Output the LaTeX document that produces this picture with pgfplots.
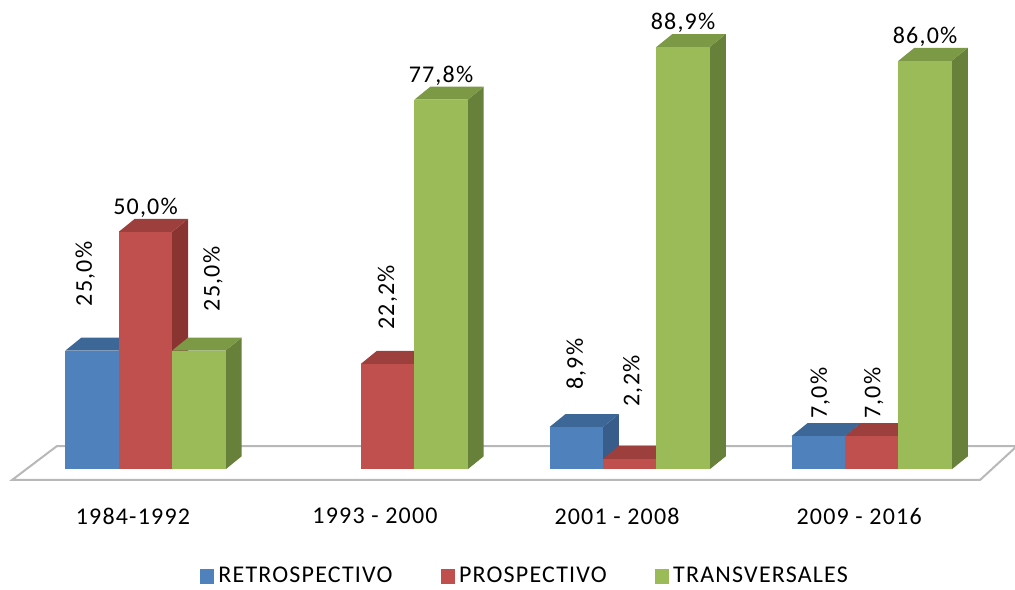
\documentclass[border=0pt]{standalone}
\usepackage{fontspec}
\setmainfont{Carlito}[LetterSpace=5]
\usepackage{pgfplots}
\usepackage{pgfplotstable}
\pgfplotsset{compat=1.18}

\definecolor{blueF}{HTML}{4F81BD}
\definecolor{blueT}{HTML}{3D6797}
\definecolor{blueS}{HTML}{385D8A}
\definecolor{redF}{HTML}{C0504D}
\definecolor{redT}{HTML}{9D3F3C}
\definecolor{redS}{HTML}{8A3432}
\definecolor{greenF}{HTML}{9BBB59}
\definecolor{greenT}{HTML}{7C9A46}
\definecolor{greenS}{HTML}{67803A}
\definecolor{floorline}{HTML}{B8B8B8}

% one 3d column: front face, top face and right side, hung from the data point
% 2.375pt per percent, front 26.7pt wide, depth offset (8pt, 6.5pt)
\newcommand\barmark[4]{%
\pgfdeclareplotmark{#1}{%
  \pgfmathsetmacro\hh{\bval*2.375}%
  \pgfpathmoveto{\pgfpoint{13.35pt}{0pt}}%
  \pgfpathlineto{\pgfpoint{21.35pt}{6.5pt}}%
  \pgfpathlineto{\pgfpoint{21.35pt}{6.5pt-\hh pt}}%
  \pgfpathlineto{\pgfpoint{13.35pt}{-\hh pt}}%
  \pgfpathclose
  \pgfsetfillcolor{#4}\pgfusepath{fill}%
  \pgfpathmoveto{\pgfpoint{-13.35pt}{0pt}}%
  \pgfpathlineto{\pgfpoint{13.35pt}{0pt}}%
  \pgfpathlineto{\pgfpoint{21.35pt}{6.5pt}}%
  \pgfpathlineto{\pgfpoint{-5.35pt}{6.5pt}}%
  \pgfpathclose
  \pgfsetfillcolor{#3}\pgfusepath{fill}%
  \pgfpathrectanglecorners{\pgfpoint{-13.35pt}{0pt}}{\pgfpoint{13.35pt}{-\hh pt}}%
  \pgfsetfillcolor{#2}\pgfusepath{fill}%
}}
\barmark{barB}{blueF}{blueT}{blueS}
\barmark{barR}{redF}{redT}{redS}
\barmark{barG}{greenF}{greenT}{greenS}

% g = period, v = percent; rot/off/xo place the value label (off, xo in pt)
\pgfplotstableread{
g v    rot off  xo
0 25.0 90  22   -3.5
2 8.9  90  18.5 0
3 7.0  90  8.5  1
}\retro
\pgfplotstableread{
g v    rot off  xo
0 50.0 0   7    0
1 22.2 90  17   0
2 2.2  90  26   1.5
3 7.0  90  8.5  1
}\prosp
\pgfplotstableread{
g v    rot off  xo
0 25.0 90  19.5 7
1 77.8 0   7    0
2 88.9 0   7    0
3 86.0 0   7    0
}\transv

\pgfplotsset{
  bar3d/.style={
    forget plot, only marks,
    visualization depends on={\thisrow{v} \as \bval},
    visualization depends on={\thisrow{rot} \as \lrot},
    visualization depends on={\thisrow{off} \as \loff},
    visualization depends on={\thisrow{xo} \as \lxo},
    point meta=explicit,
    nodes near coords={\pgfmathprintnumber[fixed,fixed zerofill,precision=1,use comma,assume math mode=true]{\pgfplotspointmeta}\%},
    nodes near coords style={font=\fontsize{12}{14}\selectfont, text=black,
      inner sep=0pt, xshift=\lxo pt, yshift=\loff pt, rotate=\lrot,
      anchor=\ifdim\lrot pt>1pt west\else south\fi},
  },
}

\begin{document}
\begin{tikzpicture}
\useasboundingbox (0,0) rectangle (507.5pt,294.5pt);
\begin{axis}[
  at={(0pt,40.5pt)}, anchor=south west,
  scale only axis, width=507.5pt, height=254pt,
  xmin=-0.6011, xmax=3.5920, ymin=-8.147, ymax=98.8,
  clip=false,
  axis line style={draw=none},
  major tick length=0pt,
  ytick=\empty,
  xtick={-0.052,0.948,1.948,2.948},
  xticklabels={1984-1992, 1993 - 2000, 2001 - 2008, 2009 - 2016},
  xticklabel style={font=\fontsize{12}{14}\selectfont, inner sep=0pt, anchor=north},
  legend columns=3,
  legend style={at={(0.5182,-0.1348)}, anchor=center, draw=none, fill=none,
    font=\fontsize{12}{14}\selectfont,
    /tikz/every even column/.append style={column sep=22pt}},
  legend image code/.code={\fill[#1] (-1.5pt,-3.6pt) rectangle (5.7pt,3.6pt);},
]
% floor
\addplot[forget plot, fill=white, draw=floorline, line width=1pt]
  coordinates {(-0.5515,-2.25) (-0.3656,4.905) (3.6003,4.905) (3.4474,-2.25)} -- cycle;

\addplot[bar3d, mark=barB] table[x expr=\thisrow{g}-0.2206, y=v, meta=v] {\retro};
\addplot[bar3d, mark=barR] table[x=g, y=v, meta=v] {\prosp};
\addplot[bar3d, mark=barG] table[x expr=\thisrow{g}+0.2206, y=v, meta=v] {\transv};

\addlegendimage{draw=none, fill=blueF}
\addlegendentry{RETROSPECTIVO}
\addlegendimage{draw=none, fill=redF}
\addlegendentry{PROSPECTIVO}
\addlegendimage{draw=none, fill=greenF}
\addlegendentry{TRANSVERSALES}
\end{axis}
\end{tikzpicture}
\end{document}
